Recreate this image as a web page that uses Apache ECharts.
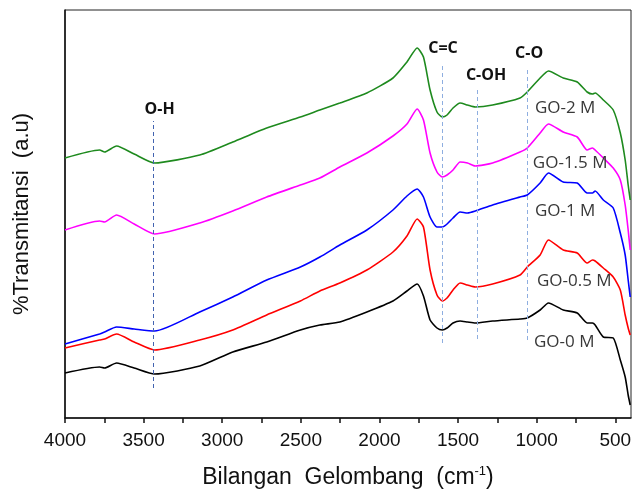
<!DOCTYPE html>
<html>
<head>
<meta charset="utf-8">
<script src="https://cdn.jsdelivr.net/npm/echarts@6/dist/echarts.min.js"></script>
<style>
  html, body { margin: 0; padding: 0; background: #fff; }
  #chart { width: 632px; height: 495px; }
</style>
</head>
<body>
<div id="chart"></div>
<script>
// bilangan gelombang (cm-1)
const wavenumber = [4000, 3780, 3748, 3672, 3560, 3430, 3143, 2933, 2717, 2503, 2379, 2252, 2080, 1914, 1825, 1760, 1720, 1678, 1634, 1600,
  1570, 1532, 1487, 1440, 1390, 1280, 1106, 1060, 978, 925, 831, 742, 679, 645, 628, 576, 513, 468, 437, 418, 405];

// transmitansi (a.u), kurva sudah digeser vertikal seperti di gambar
const go0 = [45, 51, 50, 55, 50, 44, 52, 66, 76, 88, 93, 96, 106, 117, 127, 134, 122, 98, 90, 88,
  90, 95, 97, 96, 95, 97, 99, 100, 108, 115, 108, 105, 95, 95, 93, 81, 80, 58, 41, 23, 13];
const go05 = [70, 78, 79, 84, 76, 68, 78, 88, 103, 117, 127, 135, 148, 166, 182, 199, 191, 148, 123, 117,
  120, 128, 135, 133, 131, 134, 143, 151, 163, 178, 168, 165, 155, 158, 157, 150, 141, 128, 103, 90, 83];
const go1 = [74, 84, 86, 91, 89, 87, 106, 121, 138, 151, 161, 173, 188, 208, 222, 229, 221, 201, 191, 191,
  194, 200, 206, 205, 207, 213, 221, 223, 235, 245, 236, 235, 225, 225, 227, 218, 210, 185, 163, 138, 121];
const go15 = [188, 197, 196, 203, 194, 184, 195, 207, 221, 233, 240, 251, 265, 282, 294, 309, 298, 265, 246, 241,
  243, 248, 256, 255, 252, 255, 266, 270, 285, 294, 286, 281, 268, 270, 268, 260, 250, 238, 213, 188, 168];
const go2 = [260, 268, 266, 272, 264, 255, 263, 276, 290, 301, 308, 315, 325, 340, 356, 370, 361, 328, 306, 301,
  303, 310, 315, 313, 311, 313, 320, 326, 340, 347, 340, 336, 326, 324, 325, 318, 308, 285, 258, 233, 218];

const sampleNames = ['GO-0 M', 'GO-0.5 M', 'GO-1 M', 'GO-1.5 M', 'GO-2 M'];
const sampleValues = [go0, go05, go1, go15, go2];
const sampleColors = ['#000000', '#ff0000', '#0000ff', '#ff00ff', '#1e8a1e'];
// letak teks nama sampel (koordinat data)
const sampleLabelX = [825, 761, 819, 787, 819];
const sampleLabelY = [76, 137, 207, 255, 310];

// gugus fungsi
const peakNames = ['O-H', 'C=C', 'C-OH', 'C-O'];
const peakWave = [3440, 1600, 1375, 1060];
const peakLineLow = [30, 75, 79, 78];
const peakLineHigh = [297, 355, 330, 350];
const peakLabelX = [3398, 1596, 1322, 1048];
const peakLabelY = [309, 370, 343, 365];
const peakLineColors = ['#4263b0', '#8eaee0', '#8eaee0', '#8eaee0'];

const tickValues = [4000, 3750, 3500, 3250, 3000, 2750, 2500, 2250, 2000, 1750, 1500, 1250, 1000, 750, 500];
const labelValues = [4000, 3500, 3000, 2500, 2000, 1500, 1000, 500];

var myChart = echarts.init(document.getElementById('chart'));

const series = sampleNames.map(function (name, i) {
  return {
    name: name,
    type: 'line',
    data: wavenumber.map(function (w, j) { return [w, sampleValues[i][j]]; }),
    showSymbol: false,
    smooth: 0.2,
    lineStyle: { color: sampleColors[i], width: 1.6 },
    itemStyle: { color: sampleColors[i] },
    z: 3,
    markPoint: {
      symbol: 'circle',
      symbolSize: 0,
      silent: true,
      label: {
        show: true,
        position: 'inside',
        formatter: name,
        fontFamily: 'Open Sans',
        fontSize: 17,
        color: '#383838'
      },
      data: [{ coord: [sampleLabelX[i], sampleLabelY[i]] }]
    }
  };
});

// garis putus-putus dan label gugus fungsi
series.push({
  name: 'gugus',
  type: 'line',
  data: [],
  markLine: {
    silent: true,
    symbol: ['none', 'none'],
    label: { show: false },
    data: peakWave.map(function (w, i) {
      return [
        { coord: [w, peakLineLow[i]], lineStyle: { color: peakLineColors[i], type: [4, 3], width: 1 } },
        { coord: [w, peakLineHigh[i]] }
      ];
    })
  },
  markPoint: {
    symbol: 'circle',
    symbolSize: 0,
    silent: true,
    label: {
      show: true,
      position: 'inside',
      fontFamily: 'Open Sans',
      fontWeight: 'bold',
      fontSize: 16,
      color: '#111'
    },
    data: peakNames.map(function (n, i) {
      return { coord: [peakLabelX[i], peakLabelY[i]], label: { formatter: n } };
    })
  }
});

const option = {
  animation: false,
  backgroundColor: '#fff',
  grid: {
    left: 65, right: 1, top: 10, bottom: 77,
    outerBoundsMode: 'none',
    show: true, borderColor: '#222', borderWidth: 1
  },
  xAxis: {
    type: 'value',
    inverse: true,
    min: 400,
    max: 4000,
    name: 'Bilangan  Gelombang  (cm{sup|-1})',
    nameLocation: 'middle',
    nameGap: 47,
    nameTextStyle: {
      fontFamily: 'Liberation Sans',
      fontSize: 23,
      color: '#111',
      lineHeight: 26,
      rich: {
        sup: { fontSize: 13, verticalAlign: 'top', lineHeight: 26, fontFamily: 'Liberation Sans', color: '#111' }
      }
    },
    axisLine: { lineStyle: { color: '#111', width: 1.5 } },
    axisTick: { length: 5, customValues: tickValues, lineStyle: { color: '#111', width: 1.5 } },
    axisLabel: {
      customValues: labelValues,
      formatter: function (v) { return String(v); },
      fontFamily: 'Liberation Sans', fontSize: 19, color: '#111', margin: 13
    },
    splitLine: { show: false }
  },
  yAxis: {
    type: 'value',
    min: 0,
    max: 408,
    name: '%Transmitansi  (a.u)',
    nameLocation: 'middle',
    nameGap: 32,
    nameTextStyle: { fontFamily: 'Liberation Sans', fontSize: 22, color: '#111' },
    axisLine: { show: true, lineStyle: { color: '#111', width: 1.5 } },
    axisTick: { show: false },
    axisLabel: { show: false },
    splitLine: { show: false }
  },
  series: series
};

myChart.setOption(option);
</script>
</body>
</html>
